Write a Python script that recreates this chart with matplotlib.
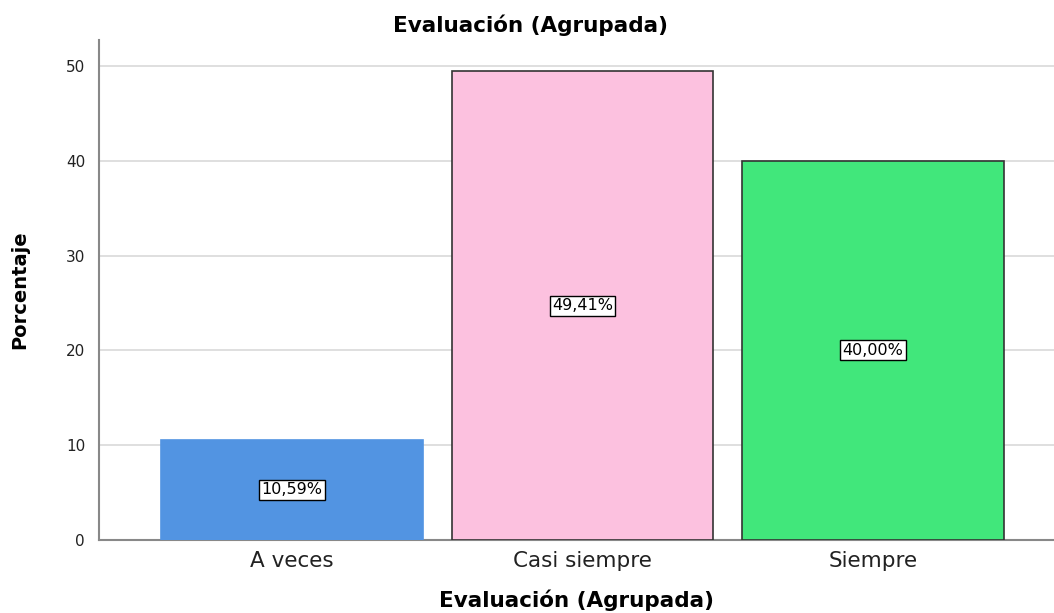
import matplotlib
matplotlib.use('Agg')
import matplotlib.pyplot as plt

# Datos
categorias = ['A veces', 'Casi siempre', 'Siempre']
porcentajes = [10.59, 49.41, 40.00]
etiquetas = ['10,59%', '49,41%', '40,00%']
colores = ['#5294e2', '#fcc1df', '#41e77b']
bordes = ['#5294e2', '#333333', '#333333']
yticks = [0, 10, 20, 30, 40, 50]

plt.rcParams['font.family'] = ['DejaVu Sans']

fig = plt.figure(figsize=(10.54, 6.13), dpi=100)
ax = fig.add_axes([0.0939, 0.119, 0.9061, 0.816])

x = range(len(categorias))
ax.bar(x, porcentajes, width=0.9, color=colores, edgecolor=bordes, linewidth=1.2, zorder=3)

# Etiquetas de valor en el centro de cada barra
for i, v in enumerate(porcentajes):
    ax.text(i, v / 2, etiquetas[i], ha='center', va='center', fontsize=11.5, zorder=4,
            bbox=dict(boxstyle='square,pad=0.15', facecolor='white', edgecolor='black', linewidth=1))

ax.set_xlim(-0.664, 2.623)
ax.set_ylim(0, 52.74)
ax.set_xticks(list(x))
ax.set_xticklabels(categorias, fontsize=15.5, color='#222222')
ax.set_yticks(yticks)
ax.set_yticklabels([str(t) for t in yticks], fontsize=11, color='#222222')
ax.tick_params(axis='both', length=0)
ax.tick_params(axis='x', pad=8)
ax.tick_params(axis='y', pad=10)

ax.grid(axis='y', color='#d9d9d9', linewidth=1.2, zorder=0)
for s in ['top', 'right']:
    ax.spines[s].set_visible(False)
for s in ['left', 'bottom']:
    ax.spines[s].set_color('#888888')
    ax.spines[s].set_linewidth(1.5)

fig.text(0.503, 0.958, 'Evaluación (Agrupada)', fontsize=15.5, fontweight='bold',
         ha='center', va='center')
ax.set_xlabel('Evaluación (Agrupada)', fontsize=15.5, fontweight='bold')
ax.xaxis.set_label_coords(0.5, -0.12)
ax.xaxis.label.set_verticalalignment('center')
ax.set_ylabel('Porcentaje', fontsize=14, fontweight='bold')
ax.yaxis.set_label_coords(-0.083, 0.5)
ax.yaxis.label.set_verticalalignment('center')

fig.savefig('out.png', dpi=100)
